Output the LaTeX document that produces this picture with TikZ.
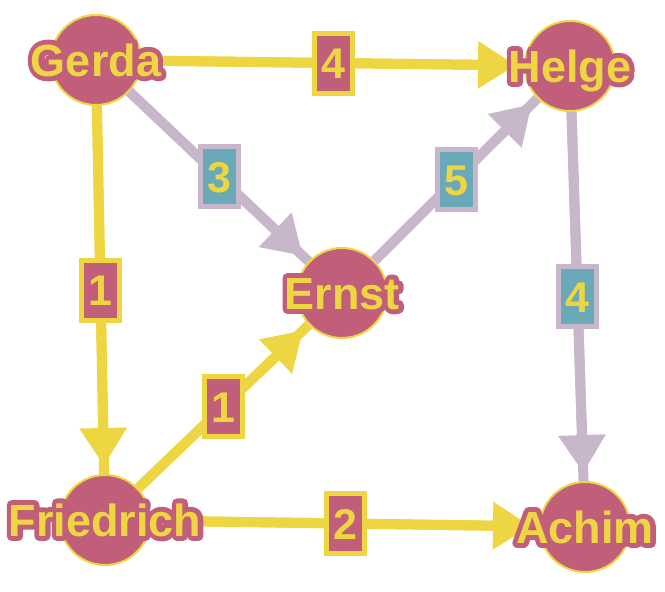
\documentclass[tikz,border=0pt]{standalone}
\usepackage{fontspec}
\setmainfont{Liberation Sans}
\usetikzlibrary{arrows.meta,calc}
\definecolor{pk}{RGB}{193,94,122}
\definecolor{yl}{RGB}{238,214,66}
\definecolor{li}{RGB}{200,183,203}
\definecolor{tl}{RGB}{106,170,184}
\font\haloF="Liberation Sans/B:embolden=22" at 45pt
\newcommand\halo[2]{%
  \node[nm,font=\haloF,text=pk,line join=round] at (#1) {\special{pdf:literal direct 1 j}#2};
  \node[nm,text=yl] at (#1) {#2};}
\begin{document}
\begin{tikzpicture}[x=1pt,y=-1pt,
  person/.style={circle,fill=pk,draw=yl,line width=2pt,minimum size=90pt,inner sep=0pt},
  nm/.style={font=\fontsize{45}{45}\selectfont\bfseries,inner sep=0pt,text height=32pt,text depth=0pt},
  yedge/.style={draw=yl,line width=10pt},
  ledge/.style={draw=li,line width=10pt},
  tip/.style={-{Triangle[length=38pt,width=45pt]},shorten >=8pt},
  wbox/.style={font=\fontsize{43}{43}\selectfont\bfseries,text=yl,line width=5pt,minimum width=38pt,minimum height=60pt,inner sep=0pt,text height=31pt,text depth=0pt},
  ybox/.style={wbox,fill=pk,draw=yl},
  lbox/.style={wbox,fill=tl,draw=li}]
\useasboundingbox (0,0) rectangle (665,592);
\node[person] (G) at (96,60) {};
\node[person] (H) at (570,66) {};
\node[person] (E) at (342,293) {};
\node[person] (F) at (105,520) {};
\node[person] (A) at (585,527) {};
% edges
\draw[yedge] (G) -- (H);
\draw[yedge,tip] (G) -- (H) node[midway,ybox] {4};
\draw[ledge] (G) -- (E);
\draw[ledge,tip] (G) -- (E) node[midway,lbox] {3};
\draw[yedge] (G) -- (F);
\draw[yedge,tip] (G) -- (F) node[midway,ybox] {1};
\draw[yedge] (F) -- (E);
\draw[yedge,tip] (F) -- (E) node[midway,ybox] {1};
\draw[yedge] (F) -- (A);
\draw[yedge,tip] (F) -- (A) node[midway,ybox] {2};
\draw[ledge] (E) -- (H);
\draw[ledge,tip] (E) -- (H) node[midway,lbox] {5};
\draw[ledge] (H) -- (A);
\draw[ledge,tip] (H) -- (A) node[midway,lbox] {4};
% names
\halo{G}{Gerda}
\halo{H}{Helge}
\halo{E}{Ernst}
\halo{F}{Friedrich}
\halo{A}{Achim}
\end{tikzpicture}
\end{document}
